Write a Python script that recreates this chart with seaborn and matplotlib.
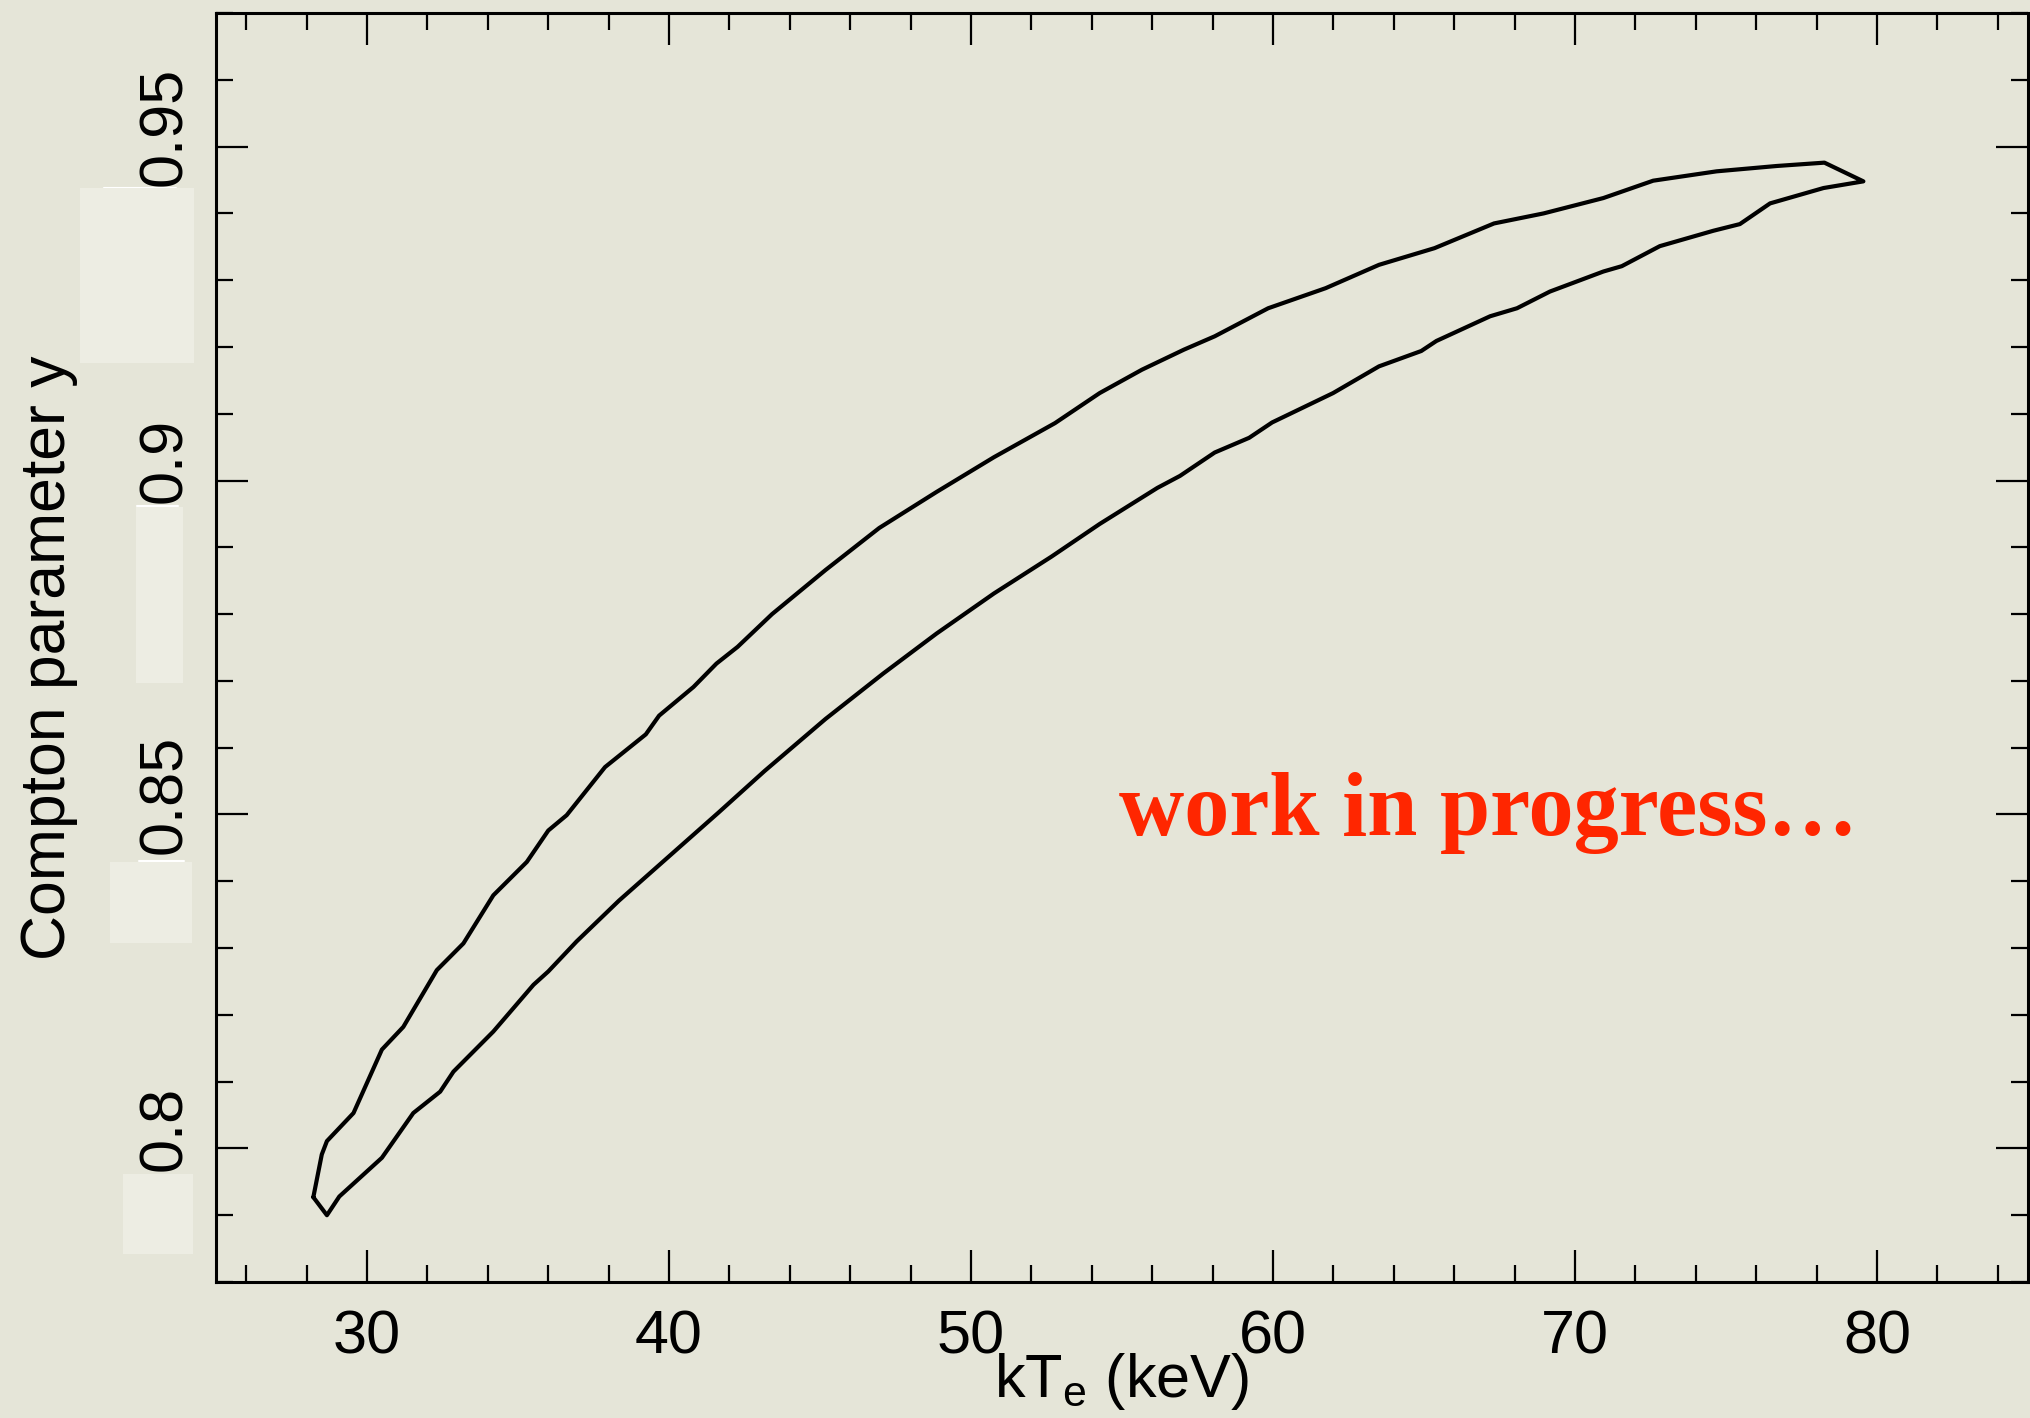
import numpy as np
import pandas as pd
import matplotlib
matplotlib.use("Agg")
import matplotlib.pyplot as plt
import matplotlib.transforms as mtransforms
from matplotlib.ticker import MultipleLocator, FuncFormatter
from matplotlib.patches import Rectangle
import seaborn as sns

# Confidence contour of the Comptonisation fit: electron temperature vs Compton y
kte_upper = [28.22, 28.50, 28.67, 29.55, 30.49, 31.20, 32.31, 33.19, 34.18, 35.29,
             36.00, 36.61, 37.88, 39.23, 39.67, 40.81, 41.57, 42.27, 43.41, 45.18,
             46.96, 48.86, 50.76, 52.78, 54.26, 55.66, 57.05, 58.07, 59.84, 61.74,
             63.51, 65.35, 67.32, 68.96, 70.94, 72.59, 74.69, 76.68, 78.26, 79.55]
y_upper = [0.7927, 0.7991, 0.8011, 0.8053, 0.8148, 0.8182, 0.8267, 0.8307, 0.8379, 0.8429,
           0.8476, 0.8499, 0.8571, 0.8620, 0.8648, 0.8691, 0.8726, 0.8751, 0.8800, 0.8866,
           0.8929, 0.8983, 0.9035, 0.9086, 0.9131, 0.9166, 0.9196, 0.9216, 0.9258, 0.9288,
           0.9323, 0.9348, 0.9385, 0.9400, 0.9423, 0.9449, 0.9463, 0.9471, 0.9476, 0.9448]

kte_lower = [78.23, 76.46, 75.46, 74.58, 72.81, 71.55, 70.94, 69.17, 68.08, 67.19,
             65.41, 64.91, 63.51, 61.99, 59.97, 59.21, 58.07, 56.92, 56.17, 54.26,
             52.66, 50.76, 48.86, 47.09, 45.18, 43.16, 41.64, 39.99, 38.34, 36.94,
             36.00, 35.51, 34.18, 32.86, 32.42, 31.53, 30.49, 29.08, 28.67]
y_lower = [0.9438, 0.9415, 0.9384, 0.9374, 0.9351, 0.9321, 0.9313, 0.9283, 0.9258, 0.9246,
           0.9209, 0.9194, 0.9171, 0.9131, 0.9087, 0.9064, 0.9042, 0.9007, 0.8989, 0.8935,
           0.8886, 0.8831, 0.8771, 0.8711, 0.8643, 0.8565, 0.8503, 0.8437, 0.8371, 0.8310,
           0.8265, 0.8245, 0.8175, 0.8115, 0.8085, 0.8053, 0.7986, 0.7928, 0.7900]

x_limits = (25, 85)
y_limits = (0.78, 0.97)
x_label = r"kT$_\mathregular{e}$ (keV)"
y_label = "Compton parameter y"
note_text = "work in progress\u2026"

bg = "#E5E5D8"
patch_col = "#EDEDE3"

sns.set_theme(style="ticks")
plt.rcParams["font.family"] = ["Liberation Sans", "DejaVu Sans"]
plt.rcParams["mathtext.fontset"] = "custom"
plt.rcParams["mathtext.rm"] = "Liberation Sans"

fig = plt.figure(figsize=(20.31, 14.18), dpi=100, facecolor=bg)
ax = fig.add_axes([0.1064, 0.0959, 0.8921, 0.8949])
ax.set_facecolor(bg)

# closed contour: upper branch, then lower branch back to the start
contour = pd.DataFrame({
    "kTe": kte_upper + kte_lower + [kte_upper[0]],
    "y": y_upper + y_lower + [y_upper[0]],
})
sns.lineplot(data=contour, x="kTe", y="y", sort=False, estimator=None,
             color="black", linewidth=3.0, ax=ax)

ax.set_xlim(*x_limits)
ax.set_ylim(*y_limits)
ax.xaxis.set_major_locator(MultipleLocator(10))
ax.xaxis.set_minor_locator(MultipleLocator(2))
ax.yaxis.set_major_locator(MultipleLocator(0.05))
ax.yaxis.set_minor_locator(MultipleLocator(0.01))
ax.yaxis.set_major_formatter(FuncFormatter(lambda v, p: f"{v:g}"))

for s in ax.spines.values():
    s.set_linewidth(2.2)
    s.set_color("black")

ax.tick_params(which="both", direction="in", top=True, right=True,
               color="black", width=1.6)
ax.tick_params(which="major", length=23)
ax.tick_params(which="minor", length=12)
ax.tick_params(axis="x", which="major", labelsize=44, pad=20, labelcolor="black")
ax.tick_params(axis="y", which="major", labelsize=44, pad=16, labelcolor="black",
               labelrotation=90)

ax.set_xlabel(x_label, fontsize=44, color="black")
ax.xaxis.set_label_coords(0.5, -0.054)
ax.set_ylabel(y_label, fontsize=45, color="black")
ax.yaxis.set_label_coords(-0.076, 0.492)

ax.text(54.9, 0.847, note_text, fontsize=65, fontweight="bold",
        family=["Liberation Serif", "DejaVu Serif"], color="#FF2600",
        ha="left", va="baseline")

# pale panels behind the y tick label column
W, H = 2031.0, 1418.0
panels = [(80, 188, 194, 363), (136, 507, 183, 683), (110, 862, 192, 943), (123, 1174, 193, 1254)]
for x0, y0, x1, y1 in panels:
    fig.patches.append(Rectangle((x0 / W, 1 - y1 / H), (x1 - x0) / W, (y1 - y0) / H,
                                 transform=fig.transFigure, facecolor=patch_col,
                                 edgecolor="none", zorder=0))
edges = [(104, 176, 188), (137, 178, 506), (139, 184, 861)]
for x0, x1, yy in edges:
    fig.lines.append(plt.Line2D([x0 / W, x1 / W], [1 - yy / H] * 2, transform=fig.transFigure,
                                color="white", linewidth=1.5, zorder=0))

fig.canvas.draw()
shift = mtransforms.ScaledTranslation(0, 20 / 100, fig.dpi_scale_trans)
for t in ax.yaxis.get_major_ticks():
    t.label1.set_transform(t.label1.get_transform() + shift)
    t.label1.set_va("center")

fig.savefig("out.png", dpi=100, facecolor=bg)
